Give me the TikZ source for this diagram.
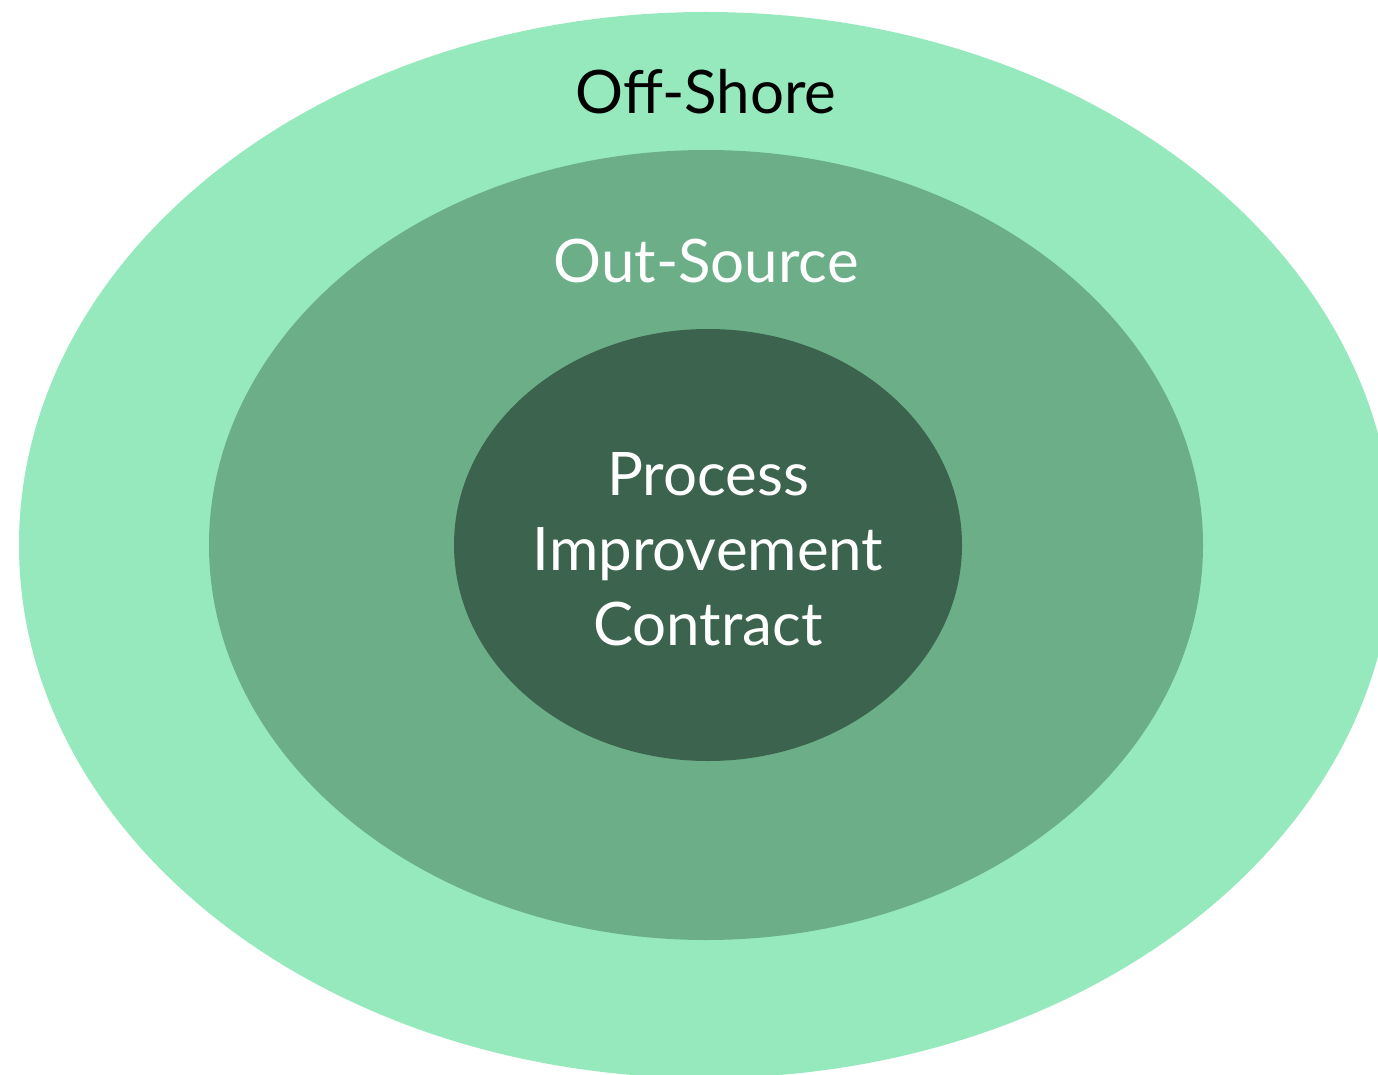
\documentclass[tikz,border=0pt]{standalone}
\usepackage{fontspec}
\setmainfont{Lato}
\definecolor{outerc}{HTML}{95E9BD}
\definecolor{midc}{HTML}{6BAE88}
\definecolor{innerc}{HTML}{3B634D}
\begin{document}
\begin{tikzpicture}[x=1pt,y=-1pt,
  lbl/.style={font=\fontsize{60}{75}\selectfont, align=center, inner sep=0pt}]
\useasboundingbox (0,0) rectangle (1378,1075);
\clip (0,0) rectangle (1378,1075);
\fill[outerc] (706,545) ellipse [x radius=687, y radius=533];
\fill[midc] (706,545) ellipse [x radius=497, y radius=395];
\fill[innerc] (708,545) ellipse [x radius=254, y radius=216];
\node[lbl, text=black] (off) at (706,92) {Off-Shore};
\node[lbl, text=white] (out) at (706,261) {Out-Source};
\node[lbl, text=white] (pic) at (708,549) {Process\\Improvement\\Contract};
\end{tikzpicture}
\end{document}
